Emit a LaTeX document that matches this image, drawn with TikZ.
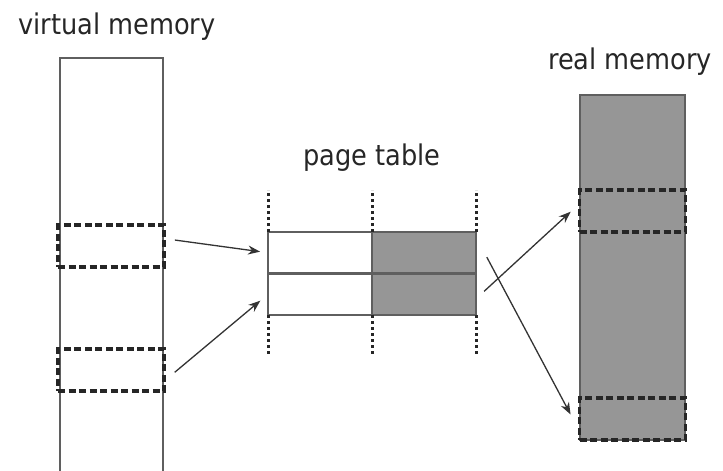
\documentclass[tikz,border=0pt]{standalone}
\usepackage{fontspec}
\setmainfont[FakeStretch=0.9]{DejaVu Sans}
\usetikzlibrary{arrows.meta}
\definecolor{memgray}{RGB}{150,150,150}
\definecolor{linegray}{RGB}{95,95,95}

\begin{document}
\begin{tikzpicture}[x=1pt,y=-1pt,
    box/.style={shape=rectangle,draw=linegray,line width=2pt,inner sep=0pt,outer sep=0pt},
    frame/.style={shape=rectangle,draw=black!85,line width=3.4pt,dash pattern=on 7pt off 3.5pt,inner sep=0pt,outer sep=0pt,minimum width=106pt,minimum height=42pt},
    cell/.style={box,minimum width=104pt,minimum height=41.5pt},
    label/.style={font=\fontsize{28.5}{30}\selectfont,text=black!85},
    guide/.style={draw=black!85,line width=3pt,dash pattern=on 3pt off 3pt},
    link/.style={-{Stealth[length=12pt,width=9pt]},line width=1.3pt,draw=black!80}]
    \useasboundingbox (0,0) rectangle (723,471);

    \node[label] (vlabel) at (117,27) {virtual memory};
    \node[label] (plabel) at (372,158) {page table};
    \node[label] (rlabel) at (630,62) {real memory};

    \node[box,minimum width=103pt,minimum height=422pt] (virt) at (111.5,269) {};
    \node[frame] (v1) at (111,246) {};
    \node[frame] (v2) at (111,370) {};

    \node[box,fill=memgray,minimum width=105pt,minimum height=345pt] (real) at (632.5,267.5) {};
    \node[frame] (r1) at (632.5,211) {};
    \node[frame] (r2) at (632.5,419) {};

    \node[cell] (c11) at (320,252.75) {};
    \node[cell,fill=memgray] (c12) at (424,252.75) {};
    \node[cell] (c21) at (320,294.25) {};
    \node[cell,fill=memgray] (c22) at (424,294.25) {};
    \draw[linegray,line width=3pt] (c11.south west) -- (c12.south east);

    \draw[guide] (c11.north west) -- ++(0,-42);
    \draw[guide] (c12.north west) -- ++(0,-42);
    \draw[guide] (c12.north east) -- ++(0,-42);
    \draw[guide] (c21.south west) -- ++(0,40);
    \draw[guide] (c22.south west) -- ++(0,40);
    \draw[guide] (c22.south east) -- ++(0,40);

    \path (v1.8) edge[link,shorten <=11pt,shorten >=8pt] (c11.west);
    \path (v2.-12) edge[link,shorten <=14pt,shorten >=10pt] (c21.west);
    \path (c22.-5.5) edge[link,shorten <=11pt,shorten >=12pt] (r1.172);
    \path (c12.17.6) edge[link,shorten <=23pt,shorten >=19pt] (r2.193.7);
\end{tikzpicture}
\end{document}
